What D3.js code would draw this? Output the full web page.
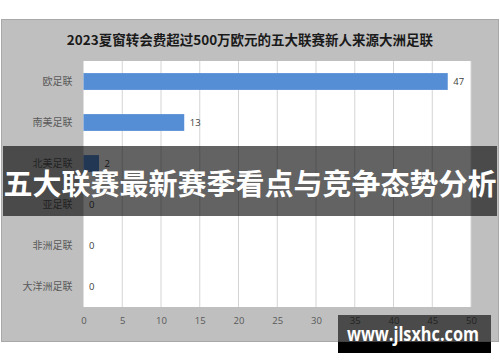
<!DOCTYPE html>
<html>
<head>
<meta charset="utf-8">
<script src="https://cdn.jsdelivr.net/npm/d3@7"></script>
<style>
  body { margin:0; background:#fff; }
  svg { display:block; }
</style>
</head>
<body>
<svg width="500" height="362"></svg>
<script>
// data
var categories = ["欧足联", "南美足联", "北美足联", "亚足联", "非洲足联", "大洋洲足联"];
var values = [47, 13, 2, 0, 0, 0];
var ticks = [0, 5, 10, 15, 20, 25, 30, 35, 40, 45, 50];
var title = "2023夏窗转会费超过500万欧元的五大联赛新人来源大洲足联";
var banner = "五大联赛最新赛季看点与竞争态势分析";
var site = "www.jlsxhc.com";

var svg = d3.select("svg");
var cjk = "'Noto Sans CJK SC', 'Noto Sans', sans-serif";

// chart panel
svg.append("rect")
  .attr("x", 1.5).attr("y", 19.5)
  .attr("width", 497).attr("height", 322)
  .style("fill", "#bfbfbf")
  .style("stroke", "#a8a8a8")
  .style("stroke-width", 1);

svg.append("text")
  .attr("x", 250).attr("y", 45)
  .attr("text-anchor", "middle")
  .style("font-family", cjk)
  .style("font-weight", "bold")
  .style("font-size", "13.5px")
  .style("fill", "#1a1a1a")
  .text(title);

var plotL = 83.5, plotR = 471, plotT = 61, plotB = 307;

var x = d3.scaleLinear().domain([0, 50]).range([plotL, plotR]);
var y = d3.scaleBand().domain(categories).range([plotT, plotB]).paddingInner(0.59).paddingOuter(0.295);

svg.append("rect")
  .attr("x", plotL).attr("y", plotT)
  .attr("width", plotR - plotL).attr("height", plotB - plotT)
  .style("fill", "#fff");

// grid
svg.append("g").selectAll("line")
  .data(ticks.slice(1))
  .enter().append("line")
  .attr("x1", d => x(d)).attr("x2", d => x(d))
  .attr("y1", plotT).attr("y2", plotB)
  .style("stroke", "#d4d4d4")
  .style("stroke-width", 1);

// x axis
var xAxis = svg.append("g")
  .attr("transform", "translate(0," + plotB + ")")
  .call(d3.axisBottom(x).tickValues(ticks).tickSize(0).tickPadding(10));
xAxis.select(".domain").remove();
xAxis.selectAll("text")
  .style("font-family", "'Open Sans', sans-serif")
  .style("font-size", "9.5px")
  .style("fill", "#595959");

// y axis
var yAxis = svg.append("g")
  .attr("transform", "translate(" + plotL + ",0)")
  .call(d3.axisLeft(y).tickSize(0).tickPadding(11));
yAxis.select(".domain").remove();
yAxis.selectAll("text")
  .style("font-family", cjk)
  .style("font-size", "10px")
  .style("fill", "#595959");

// bars
svg.append("g").selectAll("rect")
  .data(values)
  .enter().append("rect")
  .attr("x", x(0))
  .attr("y", (d, i) => y(categories[i]))
  .attr("width", d => x(d) - x(0))
  .attr("height", y.bandwidth())
  .style("fill", "#558ed5");

svg.append("g").selectAll("text")
  .data(values)
  .enter().append("text")
  .attr("x", d => x(d) + 5.5)
  .attr("y", (d, i) => y(categories[i]) + y.bandwidth() / 2)
  .attr("dy", "0.35em")
  .style("font-family", "'Open Sans', sans-serif")
  .style("font-size", "9.5px")
  .style("fill", "#404040")
  .text(d => d);

// banner overlay
svg.append("rect")
  .attr("x", 3).attr("y", 146)
  .attr("width", 494).attr("height", 70)
  .style("fill", "#000")
  .style("fill-opacity", 0.61);

svg.append("text")
  .attr("x", 250).attr("y", 185)
  .attr("dy", "0.36em")
  .attr("text-anchor", "middle")
  .attr("textLength", 493)
  .attr("lengthAdjust", "spacingAndGlyphs")
  .style("font-family", cjk)
  .style("font-weight", "bold")
  .style("font-size", "29px")
  .style("fill", "#fff")
  .text(banner);

// site watermark
svg.append("rect")
  .attr("x", 338).attr("y", 315)
  .attr("width", 153).attr("height", 27)
  .style("fill", "#000")
  .style("fill-opacity", 0.61);
svg.append("rect")
  .attr("x", 338).attr("y", 342)
  .attr("width", 153).attr("height", 11)
  .style("fill", "#000");

svg.append("text")
  .attr("x", 413).attr("y", 341)
  .attr("text-anchor", "middle")
  .attr("textLength", 132)
  .attr("lengthAdjust", "spacingAndGlyphs")
  .style("font-family", "'Open Sans', sans-serif")
  .style("font-weight", "bold")
  .style("font-size", "19px")
  .style("fill", "#fff")
  .text(site);
</script>
</body>
</html>
